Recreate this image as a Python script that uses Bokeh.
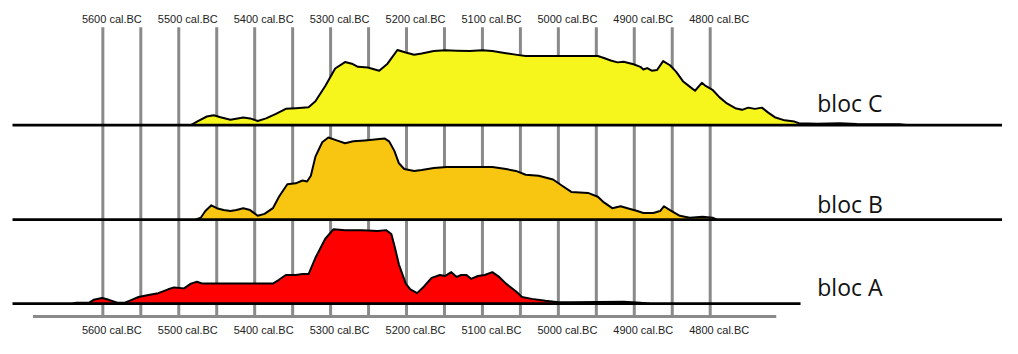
from bokeh.plotting import figure
from bokeh.models import Range1d
from bokeh.core.properties import value
from bokeh.embed import file_html
from bokeh.resources import INLINE

# ---- data (years cal. BC, relative probability) ----
tick_years = [5600, 5500, 5400, 5300, 5200, 5100, 5000, 4900, 4800]
tick_labels = ["5600 cal.BC", "5500 cal.BC", "5400 cal.BC", "5300 cal.BC", "5200 cal.BC",
               "5100 cal.BC", "5000 cal.BC", "4900 cal.BC", "4800 cal.BC"]
grid_years = [5600, 5550, 5500, 5450, 5400, 5350, 5300, 5250, 5200, 5150,
              5100, 5050, 5000, 4950, 4900, 4850, 4800]

block_names = ["bloc C", "bloc B", "bloc A"]

years_C = [5484, 5476, 5463, 5454, 5445, 5432, 5415, 5406, 5396, 5385, 5372, 5359, 5346, 5329,
           5320, 5307, 5294, 5281, 5272, 5264, 5251, 5236, 5225, 5212, 5201, 5190, 5180, 5164,
           5149, 5134, 5117, 5100, 5087, 5069, 5052, 5043, 5026, 5000, 4983, 4948, 4940, 4931,
           4922, 4914, 4901, 4892, 4888, 4883, 4877, 4870, 4862, 4853, 4845, 4836, 4827, 4820,
           4811, 4806, 4797, 4788, 4778, 4767, 4758, 4750, 4741, 4732, 4724, 4715, 4702, 4689,
           4683, 4659, 4629, 4607, 4551, 4542]
prob_C = [0, 3.7, 9, 10.3, 8.3, 5.7, 8, 7, 4.3, 7, 11.7, 17, 17.7, 18.7,
          25, 41, 59.3, 66, 64.3, 61, 60.3, 57, 64.3, 78.7, 76, 73.7, 75, 77.7,
          78.3, 78, 77.7, 78.3, 77.7, 75.3, 73.3, 72.3, 72.3, 72.3, 72.3, 72.3, 70.3, 67.7,
          65.7, 66.3, 63.7, 61, 58.3, 59.7, 57, 57.7, 67, 62.7, 56, 46, 40.3, 36,
          44.3, 41, 37, 29.3, 22.7, 17.7, 16, 18.3, 17, 18.3, 13.3, 8.3, 5, 3.7,
          2, 1.5, 2, 1.2, 1, 0]

years_B = [5478, 5471, 5465, 5457, 5450, 5441, 5432, 5424, 5415, 5406, 5396, 5387, 5376, 5368,
           5357, 5346, 5337, 5331, 5326, 5320, 5311, 5303, 5292, 5281, 5270, 5255, 5242, 5229,
           5223, 5216, 5210, 5203, 5190, 5180, 5164, 5147, 5121, 5100, 5087, 5069, 5056, 5043,
           5026, 5007, 4996, 4983, 4961, 4948, 4940, 4929, 4918, 4909, 4896, 4888, 4875, 4866,
           4861, 4853, 4840, 4827, 4810, 4797, 4791]
prob_B = [0, 2, 9, 15, 12, 10, 9, 10, 12, 10, 4, 6, 12, 24,
          37, 38, 41, 40, 46, 66, 81, 86, 83, 80, 82, 83, 84, 85,
          82, 72, 59, 53, 51, 52, 54, 55, 55, 55, 55, 53, 51, 47,
          46, 42, 36, 29, 28, 24, 18, 12, 14, 12, 9, 7, 7, 9,
          14, 10, 4, 2, 3, 2, 0]

years_A = [5640, 5635, 5618, 5612, 5601, 5592, 5581, 5571, 5562, 5553, 5540, 5527, 5514, 5506,
           5493, 5484, 5476, 5469, 5458, 5432, 5406, 5376, 5368, 5359, 5346, 5337, 5329, 5320,
           5307, 5296, 5281, 5259, 5238, 5227, 5220, 5216, 5210, 5201, 5195, 5186, 5177, 5167,
           5156, 5149, 5141, 5134, 5128, 5121, 5115, 5106, 5097, 5087, 5078, 5069, 5056, 5048,
           5035, 5017, 5000, 4983, 4914, 4892, 4880]
prob_A = [0, 1, 1, 4, 6, 4, 1, 1, 4, 7, 9, 11, 15, 17,
          16, 21, 23, 21, 21, 21, 21, 21, 25, 30, 30, 31, 31, 48,
          68, 78, 77, 77, 76, 77, 73, 61, 41, 21, 15, 11, 18, 27,
          30, 29, 33, 28, 30, 30, 26, 29, 30, 33, 28, 21, 13, 7,
          5, 3, 1.5, 1.5, 2, 1, 0]

# ---- layout / style ----
W, H = 1002, 338
p = figure(width=W, height=H, x_range=Range1d(5734.8, 4415.0), y_range=Range1d(-354, 0),
           x_axis_type=None, y_axis_type=None, output_backend="svg",
           toolbar_location=None, min_border=0)
p.grid.visible = False
p.outline_line_color = None
p.background_fill_color = "white"
p.border_fill_color = "white"

grid_top, grid_bottom = -28, -331
gray = "#8a8a8a"
p.segment(x0=grid_years, y0=[grid_top] * len(grid_years), x1=grid_years,
          y1=[grid_bottom] * len(grid_years), line_color=gray, line_width=3)
p.segment(x0=[5692], y0=[grid_bottom], x1=[4713], y1=[grid_bottom], line_color=gray, line_width=3)

blocks = [
    (years_C, prob_C, -130.5, "#f6f51c", 4410),
    (years_B, prob_B, -229.5, "#f8c611", 4410),
    (years_A, prob_A, -317.5, "#ff0000", 4681),
]
for yrs, pr, base, col, x_end in blocks:
    top = [base + v for v in pr]
    p.varea(x=yrs, y1=[base] * len(yrs), y2=top, fill_color=col)
    p.line(x=yrs, y=top, line_color="black", line_width=2, line_join="round")
    p.segment(x0=[5719], y0=[base], x1=[x_end], y1=[base], line_color="black", line_width=2.6)

label_font = value("Liberation Sans")
p.text(x=tick_years, y=[-19] * len(tick_years), text=tick_labels, x_offset=9,
       text_align="center", text_baseline="middle", text_font=label_font,
       text_font_size="11px", text_color="#222222")
p.text(x=tick_years, y=[-345] * len(tick_years), text=tick_labels, x_offset=9,
       text_align="center", text_baseline="middle", text_font=label_font,
       text_font_size="11px", text_color="#222222")

p.text(x=[4659] * 3, y=[-107, -213, -300], text=block_names,
       text_align="left", text_baseline="middle", text_font=value("Open Sans"),
       text_font_size="23px", text_color="#111111")

open("out.html", "w").write(file_html(p, INLINE))
